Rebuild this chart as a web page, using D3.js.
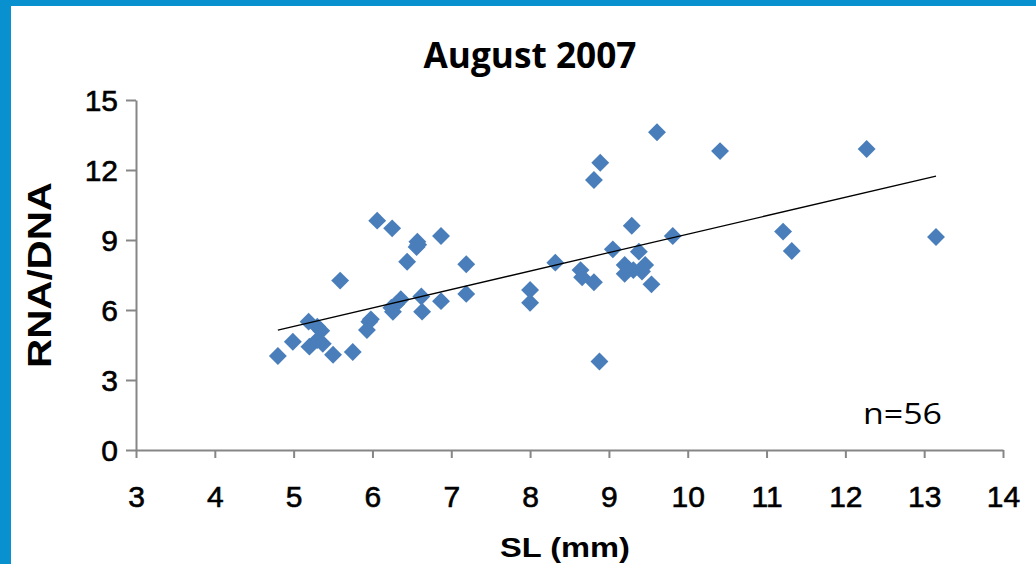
<!DOCTYPE html>
<html>
<head>
<meta charset="utf-8">
<script src="https://cdn.jsdelivr.net/npm/d3@7"></script>
<style>
  html, body { margin: 0; padding: 0; background: #fff; }
  svg { display: block; }
</style>
</head>
<body>
<svg id="chart" width="1036" height="564"></svg>
<script>
// ---- data ----
const slValues = [4.80, 4.99, 5.19, 5.30, 5.35, 5.20, 5.30, 5.37, 5.50, 5.75,
                  5.96, 5.93, 5.98, 5.59, 6.06, 6.25, 6.57, 6.56, 6.87, 6.44,
                  7.19, 7.19, 6.87, 6.62, 6.63, 6.36, 6.24, 6.26, 6.30, 8.00,
                  8.00, 8.32, 8.64, 8.66, 8.81, 8.81, 8.89, 8.88, 9.61, 10.41,
                  9.29, 9.81, 9.05, 9.38, 9.20, 9.20, 9.31, 9.46, 9.42, 9.54,
                  11.21, 11.32, 12.27, 13.15, 6.58, 9.25];
const rnaDnaValues = [4.03, 4.64, 5.50, 5.28, 5.11, 4.43, 4.71, 4.55, 4.08, 4.20,
                      5.50, 5.14, 5.60, 7.26, 9.83, 9.50, 8.93, 8.70, 9.17, 8.07,
                      7.96, 6.69, 6.38, 6.58, 5.93, 6.46, 6.10, 5.92, 6.25, 6.86,
                      6.31, 8.03, 7.71, 7.40, 7.19, 11.57, 12.31, 3.79, 13.62, 12.81,
                      9.61, 9.17, 8.60, 8.50, 7.93, 7.55, 7.71, 7.93, 7.65, 7.10,
                      9.36, 8.53, 12.90, 9.13, 8.80, 7.75];
const trendX = [4.80, 13.15];
const trendY = [5.14, 11.74];
const xTicks = [3, 4, 5, 6, 7, 8, 9, 10, 11, 12, 13, 14];
const yTicks = [0, 3, 6, 9, 12, 15];
const titleText = "August 2007";
const xLabel = "SL (mm)";
const yLabel = "RNA/DNA";
const noteText = "n=56";

const points = slValues.map((v, i) => ({ x: v, y: rnaDnaValues[i] }));
const trend = trendX.map((v, i) => ({ x: v, y: trendY[i] }));

const svg = d3.select("#chart");
const W = 1036, H = 564;

// frame
svg.append("rect").attr("x", 0).attr("y", 0).attr("width", W).attr("height", H).attr("fill", "#fff");
svg.append("rect").attr("x", 0).attr("y", 0).attr("width", W).attr("height", 6).attr("fill", "#0890CF");
svg.append("rect").attr("x", 0).attr("y", 0).attr("width", 11).attr("height", H).attr("fill", "#0890CF");

const x = d3.scaleLinear().domain([3, 14]).range([136, 1003]);
const y = d3.scaleLinear().domain([0, 15]).range([450, 100]);

const axisColor = "#868686";
const tickFont = "Liberation Sans, Arial, sans-serif";

// y axis
const gy = svg.append("g").attr("transform", `translate(${x(3)},0)`)
  .call(d3.axisLeft(y).tickValues(yTicks).tickSize(10).tickPadding(8).tickSizeOuter(0));
gy.select(".domain").attr("stroke", axisColor).attr("stroke-width", 2);
gy.selectAll(".tick line").attr("stroke", axisColor).attr("stroke-width", 2);
gy.selectAll(".tick text").attr("fill", "#000").attr("font-family", tickFont)
  .attr("font-size", 30).attr("dy", "0.36em")
  .attr("stroke", "#000").attr("stroke-width", 0.6);

// x axis
const gx = svg.append("g").attr("transform", `translate(0,${y(0)})`)
  .call(d3.axisBottom(x).tickValues(xTicks).tickSize(8).tickPadding(49).tickSizeOuter(0));
gx.select(".domain").attr("stroke", axisColor).attr("stroke-width", 2);
gx.selectAll(".tick line").attr("stroke", axisColor).attr("stroke-width", 2);
gx.selectAll(".tick text").attr("fill", "#000").attr("font-family", tickFont)
  .attr("font-size", 30).attr("dy", "0")
  .attr("stroke", "#000").attr("stroke-width", 0.6);

// points
const diamond = d3.symbol().type(d3.symbolSquare).size(160);
svg.append("g").selectAll("path").data(points).join("path")
  .attr("d", diamond)
  .attr("transform", d => `translate(${x(d.x)},${y(d.y)}) rotate(45)`)
  .attr("fill", "#4A7EBB");

// trendline
svg.append("path").datum(trend)
  .attr("d", d3.line().x(d => x(d.x)).y(d => y(d.y)))
  .attr("fill", "none").attr("stroke", "#000").attr("stroke-width", 1.3);

// title
svg.append("text").attr("x", 530).attr("y", 68).attr("text-anchor", "middle")
  .attr("font-family", "Open Sans, sans-serif").attr("font-weight", "bold").attr("font-size", 35)
  .attr("textLength", 213).attr("lengthAdjust", "spacingAndGlyphs")
  .text(titleText);

// x label
svg.append("text").attr("x", 565).attr("y", 557).attr("text-anchor", "middle")
  .attr("font-family", tickFont).attr("font-weight", "bold").attr("font-size", 28)
  .attr("textLength", 130).attr("lengthAdjust", "spacingAndGlyphs")
  .text(xLabel);

// y label
svg.append("text").attr("transform", "translate(51,275) rotate(-90)").attr("text-anchor", "middle")
  .attr("font-family", tickFont).attr("font-weight", "bold").attr("font-size", 33)
  .attr("textLength", 186).attr("lengthAdjust", "spacingAndGlyphs")
  .text(yLabel);

// note
svg.append("text").attr("x", 863).attr("y", 424)
  .attr("font-family", "Open Sans, sans-serif").attr("font-size", 30)
  .attr("textLength", 79).attr("lengthAdjust", "spacingAndGlyphs")
  .text(noteText);
</script>
</body>
</html>
